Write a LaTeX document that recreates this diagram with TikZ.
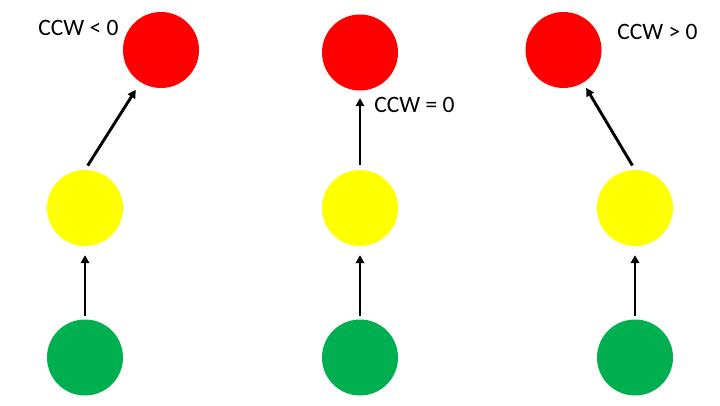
\documentclass[tikz,border=0pt]{standalone}
\usepackage{fontspec}
\setmainfont{Carlito}
\usetikzlibrary{arrows.meta}
\definecolor{cred}{RGB}{255,0,0}
\definecolor{cyellow}{RGB}{255,255,0}
\definecolor{cgreen}{RGB}{0,176,80}
\begin{document}
\begin{tikzpicture}[x=1pt,y=1pt,
  dot/.style={circle,minimum size=76pt,inner sep=0pt,draw=none},
  reddot/.style={dot,fill=cred},
  yeldot/.style={dot,fill=cyellow},
  grndot/.style={dot,fill=cgreen},
  arr/.style={line width=2.9pt,-{Triangle[width=8.5pt,length=8pt]}},
  lbl/.style={font=\fontsize{23.5}{28}\selectfont,inner sep=0pt}]
\useasboundingbox[fill=white] (0,0) rectangle (720,405);
% left column
\node[reddot] (r1) at (161,355) {};
\node[yeldot] (y1) at (85,197) {};
\node[grndot] (g1) at (85,47.5) {};
% middle column
\node[reddot] (r2) at (360,352.5) {};
\node[yeldot] (y2) at (360,197) {};
\node[grndot] (g2) at (360,47.5) {};
% right column
\node[reddot] (r3) at (563.5,355) {};
\node[yeldot] (y3) at (635,197) {};
\node[grndot] (g3) at (635,47.5) {};
% labels
\node[lbl] (t1) at (78.5,377) {CCW < 0};
\node[lbl] (t2) at (414.5,300) {CCW = 0};
\node[lbl] (t3) at (657.5,373) {CCW > 0};
% arrows
\draw[arr,shorten <=3.5pt,shorten >=9pt] (g1.north) -- (y1.south);
\draw[arr,shorten <=3.5pt,shorten >=9pt] (g2.north) -- (y2.south);
\draw[arr,shorten <=3.5pt,shorten >=9pt] (g3.north) -- (y3.south);
\draw[arr,shorten <=5pt,shorten >=9pt] (y1.north) -- (r1);
\draw[arr,shorten <=5pt,shorten >=7.5pt] (y2.north) -- (r2.south);
\draw[arr,shorten <=5pt,shorten >=6pt] (y3.north) -- (r3);
\end{tikzpicture}
\end{document}
